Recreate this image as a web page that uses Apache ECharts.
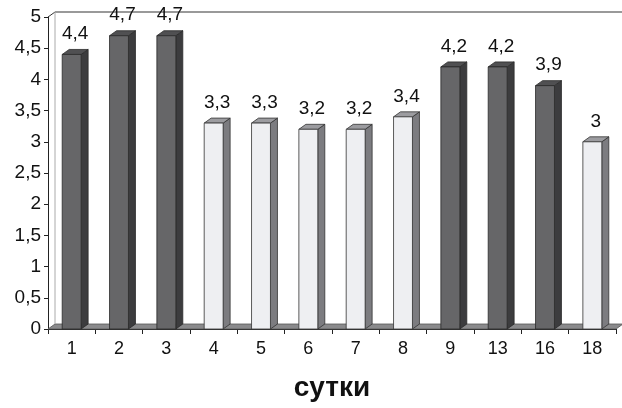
<!DOCTYPE html>
<html>
<head>
<meta charset="utf-8">
<script src="https://cdn.jsdelivr.net/npm/echarts@6/dist/echarts.min.js"></script>
<style>html,body{margin:0;padding:0;background:#fff}#c{width:622px;height:408px}</style>
</head>
<body>
<div id="c"></div>
<script>
const categories = ['1','2','3','4','5','6','7','8','9','13','16','18'];
const values = [4.4, 4.7, 4.7, 3.3, 3.3, 3.2, 3.2, 3.4, 4.2, 4.2, 3.9, 3];
const groups = ['dark','dark','dark','light','light','light','light','light','dark','dark','dark','light'];
const yTicks = { min: 0, max: 5, interval: 0.5 };
const axisTitle = 'сутки';

const DX = 7, DY = -5;
const palette = {
  dark:  { front: '#666668', side: '#3c3c3e', top: '#505052', stroke: '#2a2a2a' },
  light: { front: '#eeeff2', side: '#7c7c80', top: '#9c9ca0', stroke: '#333333' }
};
const fmt = v => String(v).replace('.', ',');
const FONT = '"Liberation Sans", Arial, sans-serif';

const chart = echarts.init(document.getElementById('c'), null, { renderer: 'canvas' });

const barData = values.map((v, i) => [i, v, groups[i]]);

chart.setOption({
  animation: false,
  grid: { left: 48, right: 6, top: 17, bottom: 79, containLabel: false, outerBoundsMode: 'none' },
  xAxis: {
    type: 'category',
    data: categories,
    boundaryGap: true,
    axisLine: { show: true, lineStyle: { color: '#222', width: 1 } },
    axisTick: { show: true, length: 5, lineStyle: { color: '#222' } },
    axisLabel: { fontSize: 18, color: '#111', margin: 11, fontFamily: FONT },
    name: axisTitle,
    nameLocation: 'middle',
    nameGap: 45,
    nameTextStyle: { fontSize: 28, fontWeight: 'bold', color: '#111', fontFamily: FONT },
    splitLine: { show: false }
  },
  yAxis: {
    type: 'value',
    min: yTicks.min, max: yTicks.max, interval: yTicks.interval,
    axisLine: { show: true, lineStyle: { color: '#222', width: 1 } },
    axisTick: { show: true, length: 4, lineStyle: { color: '#222' } },
    axisLabel: { fontSize: 19, color: '#111', margin: 7, fontFamily: FONT, formatter: v => fmt(v) },
    splitLine: { show: false }
  },
  series: [
    {
      type: 'custom',
      clip: false,
      z: 1,
      silent: true,
      data: [[0, 0]],
      renderItem: function (params, api) {
        const cs = params.coordSys;
        const L = cs.x, T = cs.y, W = cs.width, H = cs.height;
        return {
          type: 'group',
          children: [
            { type: 'polygon', shape: { points: [[L, T + H], [L + W, T + H], [L + W + DX, T + H + DY], [L + DX, T + H + DY]] },
              style: { fill: '#8a8a8c', stroke: '#555', lineWidth: 0.8 } },
            { type: 'line', shape: { x1: L + DX, y1: T + DY, x2: L + W + DX, y2: T + DY }, style: { stroke: '#777', lineWidth: 1.5 } },
            { type: 'line', shape: { x1: L, y1: T, x2: L + DX, y2: T + DY }, style: { stroke: '#333', lineWidth: 1 } },
            { type: 'line', shape: { x1: L + DX, y1: T + DY, x2: L + DX, y2: T + H + DY }, style: { stroke: '#aaa', lineWidth: 1 } }
          ]
        };
      }
    },
    {
      type: 'custom',
      clip: false,
      z: 2,
      data: barData,
      encode: { x: 0, y: 1 },
      renderItem: function (params, api) {
        const idx = api.value(0);
        const v = api.value(1);
        const g = groups[params.dataIndex];
        const c = palette[g];
        const topPt = api.coord([idx, v]);
        const basePt = api.coord([idx, 0]);
        const bw = api.size([1, 0])[0] * 0.4;
        const xl = topPt[0] - bw / 2, xr = topPt[0] + bw / 2;
        const yt = topPt[1], yb = basePt[1];
        return {
          type: 'group',
          children: [
            { type: 'polygon', shape: { points: [[xr, yt], [xr + DX, yt + DY], [xr + DX, yb + DY], [xr, yb]] },
              style: { fill: c.side, stroke: c.stroke, lineWidth: 0.8 } },
            { type: 'polygon', shape: { points: [[xl, yt], [xl + DX, yt + DY], [xr + DX, yt + DY], [xr, yt]] },
              style: { fill: c.top, stroke: c.stroke, lineWidth: 0.8 } },
            { type: 'rect', shape: { x: xl, y: yt, width: bw, height: yb - yt },
              style: { fill: c.front, stroke: c.stroke, lineWidth: 0.8 } },
            { type: 'text', x: topPt[0] + DX / 2, y: yt + DY - 6,
              style: { text: fmt(v), fill: '#111', font: '19px ' + FONT, align: 'center', verticalAlign: 'bottom' } }
          ]
        };
      }
    }
  ]
});
</script>
</body>
</html>
